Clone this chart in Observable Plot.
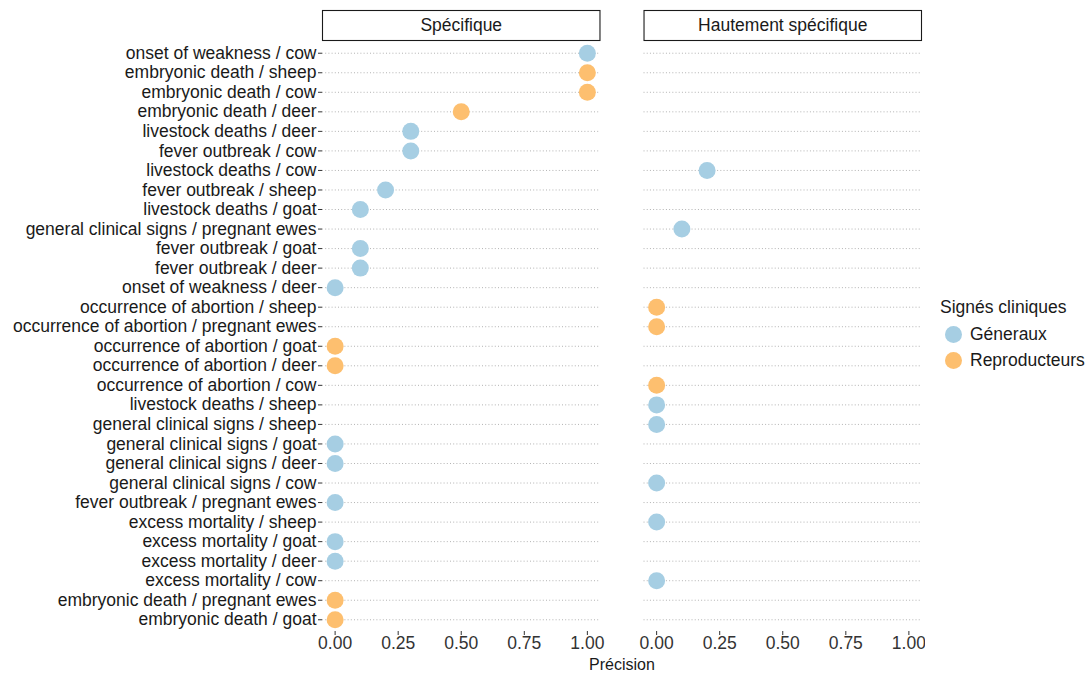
<!DOCTYPE html>
<html>
<head>
<meta charset="utf-8">
<script src="https://cdn.jsdelivr.net/npm/d3@7"></script>
<script src="https://cdn.jsdelivr.net/npm/@observablehq/plot@0.6"></script>
<style>
  body { margin: 0; background: #fff; font-family: "Liberation Sans", Arial, sans-serif; }
  #wrap { display: flex; align-items: flex-start; }
  #legend { margin-top: 296px; margin-left: 15px; color: #1a1a1a; font-size: 17.5px; }
  #legend .title { margin-bottom: 3px; height: 22px; line-height: 22px; }
  #legend .item { display: flex; align-items: center; height: 26px; margin-left: 5px; }
  #legend .sw { width: 17px; height: 17px; border-radius: 50%; margin-right: 8px; }
</style>
</head>
<body>
<div id="wrap"><div id="chart"></div><div id="legend"></div></div>
<script>
// Category order (top to bottom)
const categories = [
  "onset of weakness / cow",
  "embryonic death / sheep",
  "embryonic death / cow",
  "embryonic death / deer",
  "livestock deaths / deer",
  "fever outbreak / cow",
  "livestock deaths / cow",
  "fever outbreak / sheep",
  "livestock deaths / goat",
  "general clinical signs / pregnant ewes",
  "fever outbreak / goat",
  "fever outbreak / deer",
  "onset of weakness / deer",
  "occurrence of abortion / sheep",
  "occurrence of abortion / pregnant ewes",
  "occurrence of abortion / goat",
  "occurrence of abortion / deer",
  "occurrence of abortion / cow",
  "livestock deaths / sheep",
  "general clinical signs / sheep",
  "general clinical signs / goat",
  "general clinical signs / deer",
  "general clinical signs / cow",
  "fever outbreak / pregnant ewes",
  "excess mortality / sheep",
  "excess mortality / goat",
  "excess mortality / deer",
  "excess mortality / cow",
  "embryonic death / pregnant ewes",
  "embryonic death / goat"
];
const facets = ["Spécifique", "Hautement spécifique"];
const groups = ["Géneraux", "Reproducteurs"];
const groupColors = ["#a6cee3", "#fdbf6f"];
const xTicks = [0, 0.25, 0.5, 0.75, 1];

// Facet of each category (0 = Spécifique, 1 = Hautement spécifique)
const catFacet = [0,0,0,0,0,0,1,0,0,1,0,0,0,1,1,0,0,1,1,1,0,0,1,0,1,0,0,1,0,0];
// Group of each category (0 = Géneraux, 1 = Reproducteurs)
const catGroup = [0,1,1,1,0,0,0,0,0,0,0,0,0,1,1,1,1,1,0,0,0,0,0,0,0,0,0,0,1,1];
// Précision value of each category
const precision = [1.0,1.0,1.0,0.5,0.3,0.3,0.2,0.2,0.1,0.1,0.1,0.1,0,0,0,0,0,0,0,0,0,0,0,0,0,0,0,0,0,0];

const data = categories.map((c, i) => ({
  cat: c, facet: facets[catFacet[i]], group: groups[catGroup[i]], value: precision[i]
}));
const facetData = facets.map(f => ({facet: f}));
const gridData = facets.flatMap(f => categories.map(c => ({facet: f, cat: c})));

const W = 925, H = 677, mt = 41, mb = 46, ml = 322, mr = 4;
const innerH = H - mt - mb;
const font = "Liberation Sans, Arial, sans-serif";
const fs = 17.5;

const chart = Plot.plot({
  width: W, height: H,
  marginTop: mt, marginBottom: mb, marginLeft: ml, marginRight: mr,
  style: {fontFamily: font, fontSize: fs + "px", color: "#333", background: "#fff"},
  fx: {domain: facets, paddingInner: 0.137, paddingOuter: 0, round: false, axis: null},
  x: {domain: [-0.05, 1.05], axis: null},
  y: {domain: categories, type: "band", paddingInner: 0, paddingOuter: 0.1, round: false, axis: null},
  color: {domain: groups, range: groupColors},
  marks: [
    // facet strip boxes
    Plot.frame({fill: "white", stroke: "#1a1a1a", strokeWidth: 1.1,
      insetTop: -31, insetBottom: innerH + 1}),
    Plot.text(facetData, {fx: "facet", text: "facet", frameAnchor: "top", lineAnchor: "middle", dy: -16,
      fontSize: fs, fill: "#1a1a1a"}),
    // dotted grid lines
    Plot.ruleY(gridData, {fx: "facet", y: "cat", stroke: "#b3b3b3", strokeWidth: 1, strokeDasharray: "1,2.2"}),
    // y axis (first facet only)
    Plot.axisY({domain: categories, facetAnchor: "left", tickSize: 4, tickPadding: 2, fontSize: fs,
      stroke: "#333", fill: "#1a1a1a", label: null}),
    Plot.axisX({ticks: xTicks, tickFormat: d3.format(".2f"), tickSize: 4, tickPadding: 1.5, fontSize: fs,
      stroke: "#333", fill: "#333", label: null}),
    Plot.text([{facet: facets[0]}], {fx: "facet", text: () => "Précision", frameAnchor: "bottom-right",
      lineAnchor: "middle", dx: 22, dy: 33, textAnchor: "middle", fontSize: 16, fill: "#1a1a1a"}),
    Plot.dot(data, {fx: "facet", x: "value", y: "cat", fill: "group", r: 8.5, stroke: "none"})
  ]
});
document.getElementById("chart").appendChild(chart);

const lg = document.getElementById("legend");
lg.innerHTML = `<div class="title">Signés cliniques</div>` +
  groups.map((g, i) => `<div class="item"><div class="sw" style="background:${groupColors[i]}"></div><span>${g}</span></div>`).join("");
</script>
</body>
</html>
